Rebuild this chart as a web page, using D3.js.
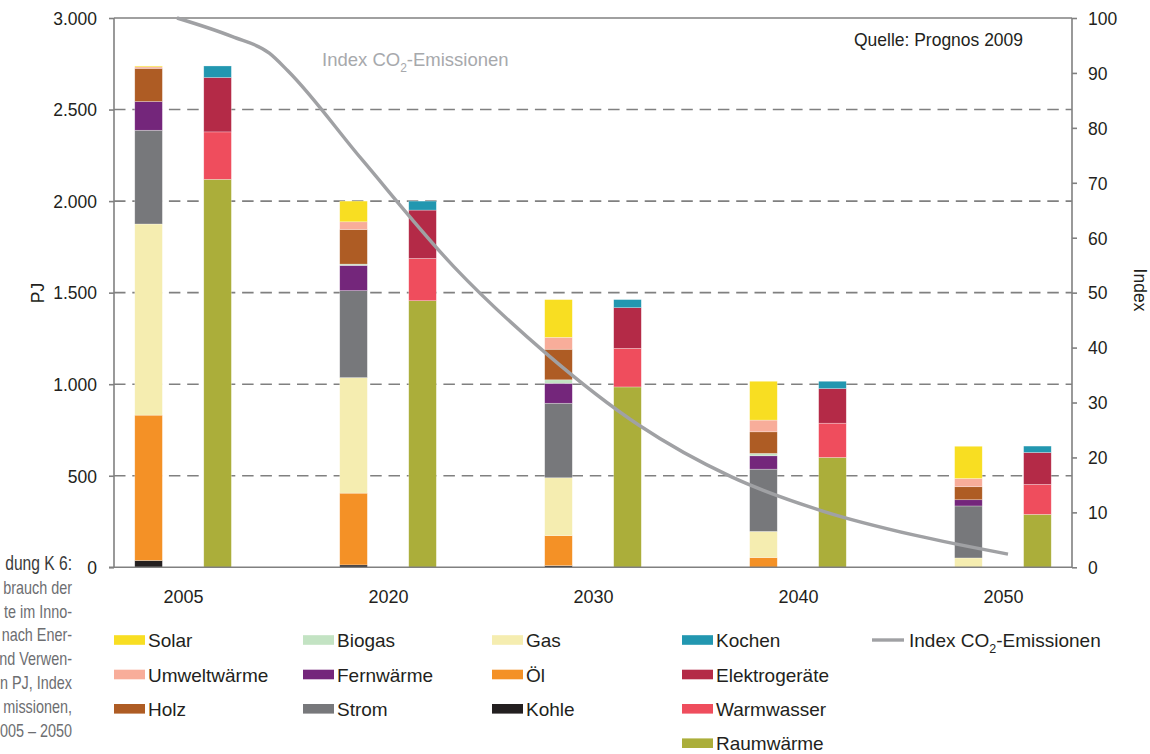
<!DOCTYPE html>
<html><head><meta charset="utf-8">
<script src="https://cdn.jsdelivr.net/npm/d3@7"></script>
<style>
html,body{margin:0;padding:0;background:#fff;}
svg{display:block;font-family:"Liberation Sans",Arial,Helvetica,sans-serif;}
</style></head>
<body><svg id="chart" width="1150" height="754"></svg>
<script>
// ---------- data ----------
const years = ["2005","2020","2030","2040","2050"];
// left bar: energy carriers (PJ), stacked bottom-up
const kohle        = [37, 13, 9, 0, 0];
const oel          = [794, 392, 164, 53, 0];
const gas          = [1044, 631, 316, 143, 51];
const strom        = [512, 475, 407, 340, 284];
const fernwaerme   = [157, 138, 109, 73, 34];
const biogas       = [0, 7, 19, 13, 0];
const holz         = [181, 189, 167, 118, 71];
const umweltwaerme = [8, 42, 65, 64, 45];
const solar        = [5, 113, 206, 212, 176];
// right bar: uses (PJ), stacked bottom-up
const raumwaerme     = [2119, 1456, 985, 600, 289];
const warmwasser     = [259, 231, 211, 187, 164];
const elektrogeraete = [297, 264, 222, 189, 174];
const kochen         = [63, 49, 44, 40, 35];
// CO2 index line
const indexYears = [2005, 2008, 2010, 2011, 2015, 2020, 2025, 2030, 2035, 2040, 2045, 2050];
const indexCO2   = [100, 96.6, 93.6, 90.4, 74.3, 54.7, 38.9, 25.9, 16.5, 10.2, 5.8, 2.4];
// ticks
const pjTicks = [0, 500, 1000, 1500, 2000, 2500, 3000];
const indexTicks = [0, 10, 20, 30, 40, 50, 60, 70, 80, 90, 100];
// caption fragment (cut off at left edge in the source)
const captionLines = ["dung K 6:", "brauch der", "te im Inno-", "nach Ener-", "nd Verwen-", "n PJ, Index", "missionen,", "005 – 2050"];

const supplyKeys = ["Kohle","Öl","Gas","Strom","Fernwärme","Biogas","Holz","Umweltwärme","Solar"];
const supplyVals = [kohle, oel, gas, strom, fernwaerme, biogas, holz, umweltwaerme, solar];
const demandKeys = ["Raumwärme","Warmwasser","Elektrogeräte","Kochen"];
const demandVals = [raumwaerme, warmwasser, elektrogeraete, kochen];

const colors = {
  "Solar":"#f8de22","Biogas":"#c3e3c3","Gas":"#f5edb0","Kochen":"#2297b0",
  "Umweltwärme":"#f8ad9a","Fernwärme":"#74267b","Öl":"#f49126","Elektrogeräte":"#b42a47",
  "Holz":"#ae5c24","Strom":"#77787b","Kohle":"#231f20","Warmwasser":"#ef4d5d","Raumwärme":"#abae3a"
};
const legendCols = [
  ["Solar","Umweltwärme","Holz"],
  ["Biogas","Fernwärme","Strom"],
  ["Gas","Öl","Kohle"],
  ["Kochen","Elektrogeräte","Warmwasser","Raumwärme"]
];

// ---------- layout ----------
const L = 114, R = 1072, T = 18, B = 567.3;
const svg = d3.select("#chart");
const txt = "#231f20", axisCol = "#808080", lineCol = "#a0a1a4";

const de = d3.formatLocale({decimal:",", thousands:".", grouping:[3], currency:["","€"]});
const fmt = de.format(",d");

const x = d3.scalePoint().domain(years).range([L, R]).padding(0.337);
const sub = d3.scaleBand().domain(["supply","demand"]).range([-48.3, 48.3]).paddingInner(0.6);
const y = d3.scaleLinear().domain([0, 3000]).range([B, T]);
const y2 = d3.scaleLinear().domain([0, 100]).range([B, T]);
const xLine = d3.scaleLinear().domain([2005, 2050]).range([177, 1008]);

// gridlines
svg.append("g").selectAll("line").data(pjTicks.filter(d => d > 0 && d < 3000)).join("line")
  .attr("x1", L).attr("x2", R).attr("y1", d => y(d)).attr("y2", d => y(d))
  .attr("stroke", axisCol).attr("stroke-width", 1.6).attr("stroke-dasharray", "11.5,6.8");
// top frame
svg.append("line").attr("x1", L).attr("x2", R).attr("y1", y(3000)).attr("y2", y(3000))
  .attr("stroke", axisCol).attr("stroke-width", 1.6);

// stacked bars
function rowsFrom(keys, vals) {
  return years.map((yr, i) => { const o = {year: yr}; keys.forEach((k, j) => o[k] = vals[j][i]); return o; });
}
const supplyStack = d3.stack().keys(supplyKeys)(rowsFrom(supplyKeys, supplyVals));
const demandStack = d3.stack().keys(demandKeys)(rowsFrom(demandKeys, demandVals));

function drawStack(stack, part) {
  svg.append("g").selectAll("g").data(stack).join("g")
    .attr("fill", s => colors[s.key])
    .selectAll("rect").data(s => s.filter(d => d[1] - d[0] > 0)).join("rect")
    .attr("x", d => x(d.data.year) + sub(part))
    .attr("width", sub.bandwidth())
    .attr("y", d => y(d[1]))
    .attr("height", d => y(d[0]) - y(d[1]))
    .attr("stroke", "#fff").attr("stroke-opacity", 0.45).attr("stroke-width", 0.6);
}
drawStack(supplyStack, "supply");
drawStack(demandStack, "demand");

// left axis
const yAxis = svg.append("g").attr("transform", `translate(${L},0)`)
  .call(d3.axisLeft(y).tickValues(pjTicks).tickFormat(fmt).tickSize(5).tickPadding(12));
yAxis.select(".domain").attr("stroke", axisCol).attr("stroke-width", 1.6).attr("d", `M0,${T}V${B}`);
yAxis.selectAll(".tick line").attr("stroke", axisCol).attr("stroke-width", 1.6);
yAxis.selectAll("text").attr("fill", txt).style("font-size", "17.5px").attr("dy", "0.36em");

// right axis
const y2Axis = svg.append("g").attr("transform", `translate(${R},0)`)
  .call(d3.axisRight(y2).tickValues(indexTicks).tickSize(5).tickPadding(11));
y2Axis.select(".domain").attr("stroke", axisCol).attr("stroke-width", 1.6).attr("d", `M0,${T}V${B}`);
y2Axis.selectAll(".tick line").attr("stroke", axisCol).attr("stroke-width", 1.6);
y2Axis.selectAll("text").attr("fill", txt).style("font-size", "17.5px").attr("dy", "0.36em");

// bottom axis
const xAxis = svg.append("g").attr("transform", `translate(0,${B})`)
  .call(d3.axisBottom(x).tickSize(0).tickPadding(23));
xAxis.select(".domain").attr("stroke", axisCol).attr("stroke-width", 1.6).attr("d", `M${L-5},0H${R}`);
xAxis.selectAll("text").attr("fill", txt).style("font-size", "18px");

// CO2 index line
const lineData = indexYears.map((yr, i) => [yr, indexCO2[i]]);
svg.append("path").datum(lineData)
  .attr("fill", "none").attr("stroke", lineCol).attr("stroke-width", 3.4).attr("stroke-linejoin", "round")
  .attr("d", d3.line().x(d => xLine(d[0])).y(d => y2(d[1])).curve(d3.curveMonotoneX));

// in-plot label
function co2Label(sel, size, sub) {
  sel.append("tspan").text("Index CO");
  sel.append("tspan").attr("dy", size*0.32).style("font-size", sub + "px").text("2");
  sel.append("tspan").attr("dy", -size*0.32).text("-Emissionen");
}
co2Label(svg.append("text").attr("x", 322).attr("y", 66).attr("fill", "#a7a9ac").style("font-size", "18.5px"), 18.5, 12);

// source
svg.append("text").attr("x", 854).attr("y", 46).attr("fill", txt).style("font-size", "19px")
  .attr("textLength", 169).attr("lengthAdjust", "spacingAndGlyphs").text("Quelle: Prognos 2009");

// axis titles
svg.append("text").attr("transform", "translate(44,293) rotate(-90)").attr("text-anchor", "middle")
  .attr("fill", txt).style("font-size", "17.5px").text("PJ");
svg.append("text").attr("transform", "translate(1134,290) rotate(90)").attr("text-anchor", "middle")
  .attr("fill", txt).style("font-size", "17.5px").text("Index");

// caption fragment
const cap = svg.append("g").attr("transform", "translate(72,0) scale(0.8,1)");
cap.selectAll("text").data(captionLines).join("text")
  .attr("x", 0).attr("y", (d, i) => 570 + i * 23.8).attr("text-anchor", "end")
  .attr("fill", (d, i) => i === 0 ? "#3a3a3a" : "#6d6e71")
  .style("font-size", (d, i) => i === 0 ? "19.5px" : "18px").text(d => d);

// legend
const colX = [114, 303, 492, 682];
const rowY = [640, 674.5, 708.8, 743.2];
legendCols.forEach((col, ci) => {
  const g = svg.append("g");
  col.forEach((k, ri) => {
    g.append("rect").attr("x", colX[ci]).attr("y", rowY[ri] - 4.8).attr("width", 31).attr("height", 9.6).attr("fill", colors[k]);
    g.append("text").attr("x", colX[ci] + 34).attr("y", rowY[ri] + 7).attr("fill", txt).style("font-size", "19px").text(k);
  });
});
svg.append("line").attr("x1", 872).attr("x2", 904).attr("y1", 640).attr("y2", 640)
  .attr("stroke", lineCol).attr("stroke-width", 3.4);
co2Label(svg.append("text").attr("x", 909).attr("y", 647).attr("fill", txt).style("font-size", "19px"), 19, 12.5);
</script>
</body></html>
